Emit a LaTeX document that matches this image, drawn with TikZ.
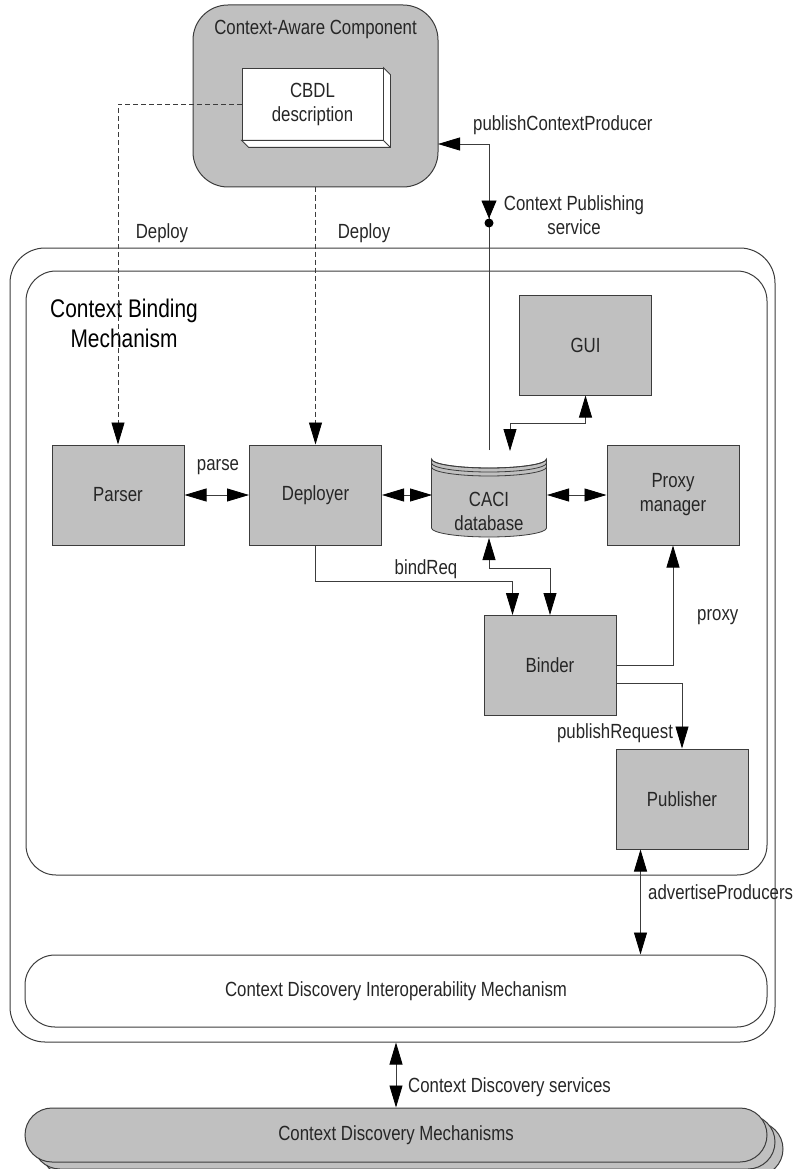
\documentclass[tikz,border=0pt]{standalone}
\usepackage{fontspec}
\setmainfont{Liberation Sans}
\newfontfamily\narrowfont[FakeStretch=0.82]{Liberation Sans}
\usetikzlibrary{arrows.meta,calc}
\definecolor{boxgray}{HTML}{C0C0C0}
\definecolor{linec}{HTML}{3C3C3C}
\definecolor{txtc}{HTML}{262626}
\begin{document}
\begin{tikzpicture}[x=1pt,y=-1pt,
  lbl/.style={font=\narrowfont\fontsize{20.5}{24}\selectfont, text=txtc, inner sep=0pt},
  biglbl/.style={font=\narrowfont\fontsize{25.5}{30}\selectfont, text=black, inner sep=0pt, align=center},
  gbox/.style={draw=linec, fill=boxgray, line width=1pt, minimum width=132pt, minimum height=100pt, inner sep=0pt, align=center, lbl},
  frame/.style={draw=linec, line width=1pt, inner sep=0pt},
  wire/.style={draw=linec, line width=0.8pt},
  tipend/.style={-{Triangle[length=22pt,width=13pt,color=black]}},
  tipboth/.style={{Triangle[length=22pt,width=13pt,color=black]}-{Triangle[length=22pt,width=13pt,color=black]}},
  dashwire/.style={draw=linec, line width=0.8pt, dash pattern=on 5pt off 3pt}
]
\useasboundingbox (0,0) rectangle (800,1169);

% containers
\node[frame, rounded corners=35pt, minimum width=765pt, minimum height=794pt] (outer) at (392.5,645) {};
\node[frame, rounded corners=30pt, minimum width=741pt, minimum height=604pt] (inner) at (396.5,573) {};
\node[biglbl] (cbmtitle) at (124,323) {Context Binding\\Mechanism};

% context-aware component
\node[frame, fill=boxgray, rounded corners=35pt, minimum width=245pt, minimum height=182pt] (cac) at (315.5,96) {};
\node[lbl] (cactitle) at (315.5,29) {Context-Aware Component};
\node[draw=linec, fill=white, line width=0.8pt, minimum width=141pt, minimum height=72pt, inner sep=0pt, align=center, lbl] (cbdl) at (312.5,104) {CBDL\\description};
\draw[draw=linec, fill=white, line width=0.8pt] (cbdl.north east) -- ++(7,7) -- ($(cbdl.south east)+(7,7)$) -- ($(cbdl.south west)+(7,7)$) -- (cbdl.south west) -- (cbdl.south east) -- cycle;
\draw[draw=linec, line width=0.8pt] (cbdl.south east) -- ++(7,7);

% boxes
\node[gbox] (parser) at (118,495) {Parser};
\node[gbox] (deployer) at (315.5,495) {Deployer};
\node[gbox] (gui) at (585.5,345) {GUI};
\node[gbox] (proxy) at (673,495) {Proxy\\manager};
\node[gbox] (binder) at (550,665.5) {Binder};
\node[gbox] (publisher) at (682,799) {Publisher};

% CACI database cylinder
\def\cx{489}\def\rx{57.5}\def\ry{9}
\draw[draw=linec, fill=boxgray, line width=0.8pt]
  (\cx-\rx,459) -- (\cx-\rx,528) arc[start angle=180, end angle=360, x radius=\rx, y radius=-\ry] -- (\cx+\rx,459) arc[start angle=0, end angle=180, x radius=\rx, y radius=\ry] -- cycle;
\draw[draw=linec, line width=0.8pt] (\cx-\rx,459) arc[start angle=180, end angle=360, x radius=\rx, y radius=-\ry];
\draw[draw=linec, line width=0.8pt] (\cx-\rx,463) arc[start angle=180, end angle=360, x radius=\rx, y radius=-\ry];
\draw[draw=linec, line width=0.8pt] (\cx-\rx,467) arc[start angle=180, end angle=360, x radius=\rx, y radius=-\ry];
\node[minimum width=115pt, minimum height=88pt, inner sep=0pt] (caci) at (489,494) {};
\node[lbl, align=center] (cacitext) at (489,511) {CACI\\database};

% CDIM and stacked CDM
\node[frame, rounded corners=30pt, minimum width=742pt, minimum height=72pt, lbl] (cdim) at (396,991) {Context Discovery Interoperability Mechanism};
\node[frame, fill=boxgray, rounded corners=27pt, minimum width=742pt, minimum height=54pt] (cdm3) at (412,1149) {};
\node[frame, fill=boxgray, rounded corners=27pt, minimum width=742pt, minimum height=54pt] (cdm2) at (404,1142) {};
\node[frame, fill=boxgray, rounded corners=27pt, minimum width=742pt, minimum height=54pt, lbl] (cdm) at (396,1135) {Context Discovery Mechanisms};

% coordinates
\coordinate (cacin) at (438,144);
\coordinate (cacitop) at (489,450);
\coordinate (caciguitop) at (510,451);
\coordinate (cacileft) at (432,495);
\coordinate (caciright) at (547,495);
\coordinate (cacibot) at (489,538);
\coordinate (lolli) at (489,223);
\coordinate (advtop) at ($(publisher.south west)+(25,0)$);
\coordinate (advbot) at (advtop |- cdim.north);
\coordinate (cdstop) at (cdm.north |- outer.south);

% connectors
\draw[dashwire, tipend] (cbdl.west) -| (parser.north);
\draw[dashwire, tipend] (cac.south) -- (deployer.north);
\draw[wire, tipboth] (parser.east) -- (deployer.west);
\draw[wire, tipboth] (deployer.east) -- (cacileft);
\draw[wire, tipboth] (caciright) -- (proxy.west);
\draw[wire, tipboth] (gui.south) -- ++(0,28) -| (caciguitop);
\draw[wire, tipboth] (cacibot) -- ++(0,30) -| (binder.north);
\draw[wire, tipend] (deployer.south) -- ++(0,36) -| ($(binder.north west)+(29,0)$);
\draw[wire, tipend] (binder.east) -| (proxy.south);
\draw[wire, tipend] ($(binder.east)+(0,18)$) -| (publisher.north);
\draw[wire, tipboth] (advtop) -- (advbot);
\draw[wire, tipboth] (cdstop) -- (cdm.north);
\draw[wire, tipend] (cacitop) |- (cacin);
\draw[wire, -{Triangle[length=18pt,width=15pt,color=black]}] (489,199) -- (489,218.5);
\fill[black] (lolli) circle (4.5pt);

% labels
\node[lbl] (dep1) at (162,233) {Deploy};
\node[lbl] (dep2) at (364,233) {Deploy};
\node[lbl, anchor=west] (pcp) at (473,125) {publishContextProducer};
\node[lbl, align=center] (cps) at (574,215) {Context Publishing\\service};
\node[lbl] (parselbl) at (218,467) {parse};
\node[lbl] (bindreq) at (426,569) {bindReq};
\node[lbl, anchor=west] (proxylbl) at (697,617) {proxy};
\node[lbl] (pubreq) at (615,733) {publishRequest};
\node[lbl, anchor=west] (advp) at (648,892) {advertiseProducers};
\node[lbl, anchor=west] (cds) at (408,1087) {Context Discovery services};
\end{tikzpicture}
\end{document}
